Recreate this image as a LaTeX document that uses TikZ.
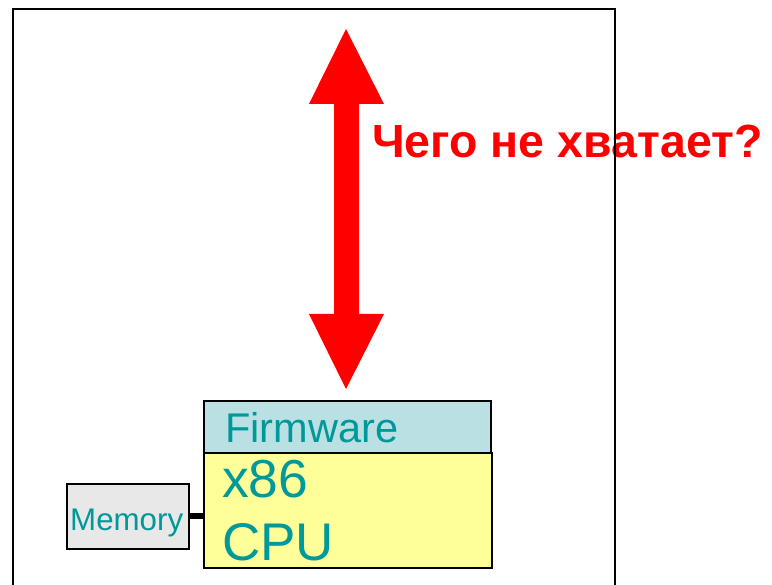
\documentclass[tikz,border=0pt]{standalone}
\usepackage{fontspec}
\setmainfont{Liberation Sans}
\definecolor{teal2}{HTML}{009999}
\definecolor{fwblue}{HTML}{BBE0E3}
\definecolor{cpuyel}{HTML}{FFFF99}
\definecolor{memgray}{HTML}{E8E8E8}
\begin{document}
\begin{tikzpicture}[x=1pt,y=-1pt,
  box/.style={draw=black,line width=1.6pt,inner sep=0pt,anchor=north west},
  lbl/.style={text=teal2,inner sep=0pt,anchor=base west}]
\useasboundingbox (0,0) rectangle (772,585);
% arrow
\fill[red] (346,29) -- (384,104) -- (359,104) -- (359,314) -- (384,314) -- (346,389)
  -- (309,314) -- (334,314) -- (334,104) -- (309,104) -- cycle;
\node[anchor=base west,inner sep=0pt,text=red,font=\fontsize{46.5}{48}\selectfont\bfseries] (q) at (372,158) {Чего не хватает?};
% outer box
\draw[line width=1.6pt] (13,600) -- (13,9) -- (615,9) -- (615,600);
% boxes
\node[box,fill=fwblue,minimum width=287,minimum height=52] (fw) at (203,400) {};
\node[box,fill=cpuyel,minimum width=288,minimum height=115] (cpu) at (203,452) {};
\node[box,fill=memgray,minimum width=122,minimum height=65] (mem) at (66,483) {};
\draw[line width=6pt] (mem.east) -- (mem.east -| cpu.west);
\node[lbl,font=\fontsize{41.5}{44}\selectfont] (fwt) at (225,443) {Firmware};
\node[lbl,font=\fontsize{53.5}{56}\selectfont] (x86) at (222,498) {x86};
\node[lbl,font=\fontsize{53}{56}\selectfont] (cput) at (222,560) {CPU};
\node[lbl,font=\fontsize{31.3}{33}\selectfont] (memt) at (70,530) {Memory};
\end{tikzpicture}
\end{document}
